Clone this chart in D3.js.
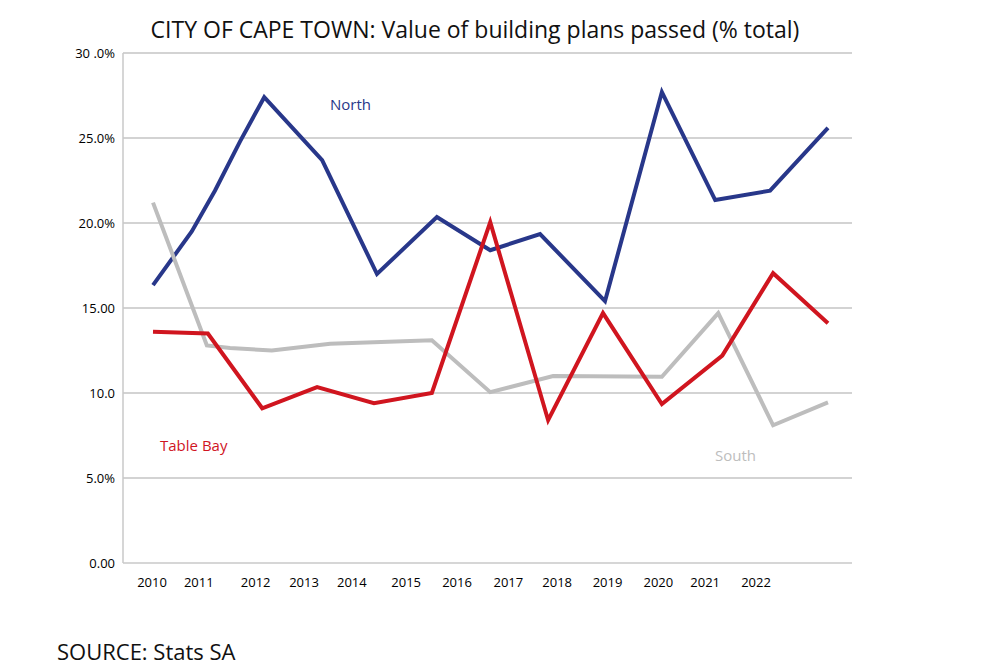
<!DOCTYPE html>
<html>
<head>
<meta charset="utf-8">
<script src="https://d3js.org/d3.v7.min.js"></script>
<style>
body { margin: 0; background: #fff; }
text { font-family: "Open Sans", "Noto Sans", sans-serif; }
</style>
</head>
<body>
<script>
var width = 1000, height = 668;

// x values are positions along the year axis (as drawn in the source chart)
var series = [
    { name: "North", color: "#28378a", label: [330, 110], points: [
        [2010.02, 16.35], [2010.79, 19.5], [2011.25, 21.9], [2011.75, 24.8], [2012.23, 27.4],
        [2013.38, 23.7], [2014.47, 17.0], [2015.66, 20.35], [2016.72, 18.4], [2017.71, 19.35],
        [2019.0, 15.4], [2020.13, 27.7], [2021.19, 21.35], [2022.28, 21.9], [2023.43, 25.6]] },
    { name: "South", color: "#bdbdbd", label: [715, 461], points: [
        [2010.02, 21.2], [2011.09, 12.8], [2011.55, 12.65], [2012.38, 12.5], [2013.54, 12.9],
        [2015.56, 13.1], [2016.72, 10.05], [2017.97, 11.0], [2020.13, 10.95], [2021.25, 14.7],
        [2022.34, 8.1], [2023.43, 9.45]] },
    { name: "Table Bay", color: "#d0151f", label: [160, 451], points: [
        [2010.02, 13.6], [2011.11, 13.5], [2012.19, 9.1], [2013.28, 10.35], [2014.41, 9.4],
        [2015.56, 10.0], [2016.72, 20.05], [2017.87, 8.4], [2018.96, 14.7], [2020.13, 9.35],
        [2021.33, 12.2], [2022.34, 17.05], [2023.43, 14.1]] }
];

var yearTicks = [2010, 2011, 2012, 2013, 2014, 2015, 2016, 2017, 2018, 2019, 2020, 2021, 2022];
var yearPos = [2010, 2010.93, 2012.06, 2013.02, 2013.97, 2015.05, 2016.06, 2017.08, 2018.05, 2019.05, 2020.06, 2020.99, 2022];
var yLabels = { 0: "0.00", 5: "5.0%", 10: "10.0", 15: "15.00", 20: "20.0%", 25: "25.0%", 30: "30 .0%" };

var svg = d3.select("body").append("svg").attr("width", width).attr("height", height);

var x = d3.scaleLinear().domain([2010, 2022]).range([152, 756]);
var y = d3.scaleLinear().domain([0, 30]).range([563, 53]);

// gridlines
svg.selectAll("line.grid")
    .data([5, 10, 15, 20, 25, 30])
    .enter().append("line")
    .attr("x1", 123).attr("x2", 852)
    .attr("y1", function(d) { return y(d); })
    .attr("y2", function(d) { return y(d); })
    .attr("stroke", "#d3d3d3").attr("stroke-width", 2);

svg.append("line").attr("x1", 123).attr("x2", 123).attr("y1", y(30)).attr("y2", y(0))
    .attr("stroke", "#c8c8c8").attr("stroke-width", 1.5);
svg.append("line").attr("x1", 123).attr("x2", 852).attr("y1", y(0)).attr("y2", y(0))
    .attr("stroke", "#c8c8c8").attr("stroke-width", 1.5);

svg.selectAll("text.ylab")
    .data([0, 5, 10, 15, 20, 25, 30])
    .enter().append("text")
    .attr("x", 115).attr("y", function(d) { return y(d) + 5; })
    .attr("text-anchor", "end").attr("font-size", 13)
    .text(function(d) { return yLabels[d]; });

svg.selectAll("text.xlab")
    .data(yearTicks)
    .enter().append("text")
    .attr("x", function(d, i) { return x(yearPos[i]); }).attr("y", 587)
    .attr("text-anchor", "middle").attr("font-size", 13)
    .text(function(d) { return d; });

var line = d3.line()
    .x(function(d) { return x(d[0]); })
    .y(function(d) { return y(d[1]); });

series.forEach(function(s) {
    svg.append("path").datum(s.points)
        .attr("d", line).attr("fill", "none")
        .attr("stroke", s.color).attr("stroke-width", 4)
        .attr("stroke-linejoin", "miter");
    svg.append("text").attr("x", s.label[0]).attr("y", s.label[1])
        .attr("font-size", 15).attr("fill", s.color).text(s.name);
});

svg.append("text").attr("x", 475).attr("y", 38).attr("text-anchor", "middle")
    .attr("font-size", 23).attr("fill", "#111")
    .text("CITY OF CAPE TOWN: Value of building plans passed (% total)");

svg.append("text").attr("x", 57).attr("y", 660)
    .attr("font-size", 22).attr("fill", "#111").text("SOURCE: Stats SA");
</script>
</body>
</html>
